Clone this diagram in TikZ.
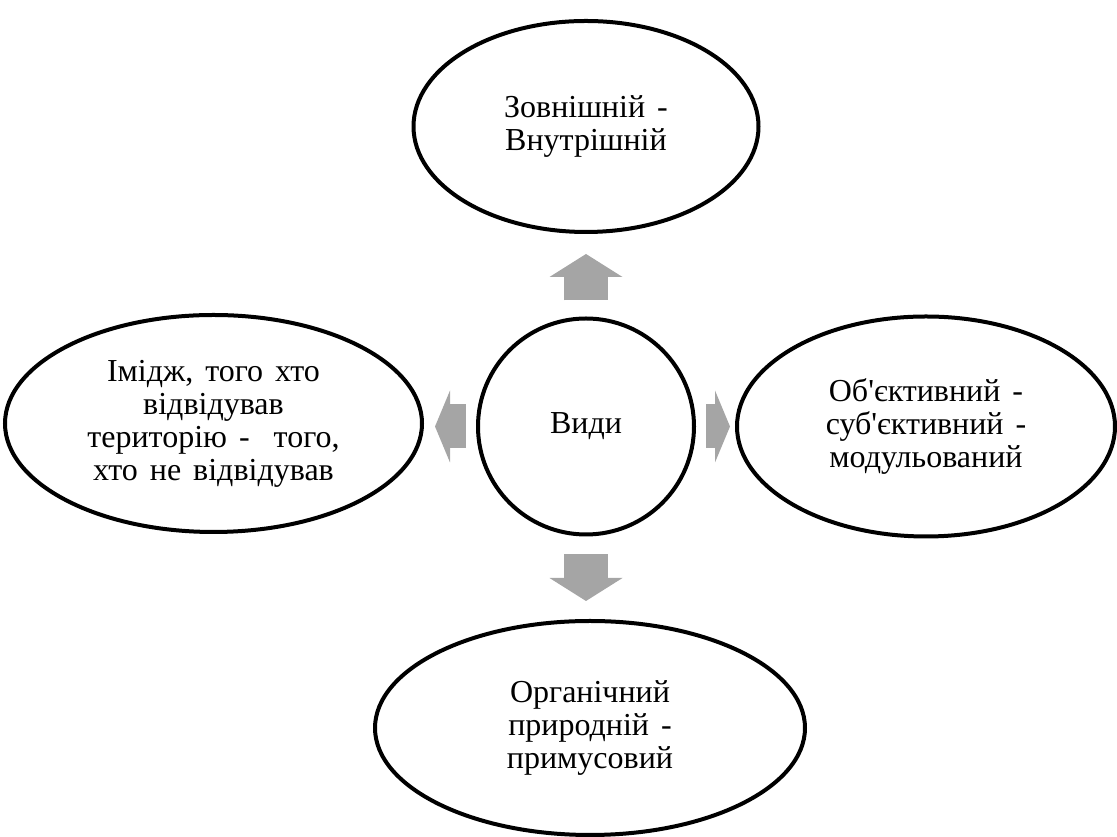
\documentclass[tikz,border=0pt]{standalone}
\usepackage{fontspec}
\setmainfont{Liberation Serif}[Ligatures=TeXOff, WordSpace={1.5,1,1}]
\usetikzlibrary{shapes.geometric, positioning, arrows.meta}
\definecolor{arrowgray}{RGB}{165,165,165}

\begin{document}
\begin{tikzpicture}
	[x=1pt, y=1pt, on grid,
	 kind/.style={ellipse, draw, line width=4pt, align=center, inner sep=0pt,
	   font=\fontsize{32}{33}\selectfont},
	 hub/.style={circle, draw, line width=4pt, minimum size=216pt,
	   font=\fontsize{32}{33}\selectfont},
	 fatup/.style={draw=arrowgray, line width=44pt,
	   -{Triangle[width=73pt, length=23pt, line width=0pt]}},
	 fatside/.style={draw=arrowgray, line width=44pt,
	   -{Triangle[width=72pt, length=15pt, line width=0pt]}}]
   \useasboundingbox (0,0) rectangle (1117,837);
   \node[hub] (vydy) at (586,410.5) {Види};
   \node[kind, minimum width=345pt, minimum height=211pt, yshift=-5pt] (zovn) [above=305pt of vydy]
     {Зовнішній -\\Внутрішній};
   \node[kind, minimum width=430pt, minimum height=214pt, xshift=4pt] (orh) [below=301.5pt of vydy]
     {Органічний\\природній -\\примусовий};
   \node[kind, minimum width=417pt, minimum height=217pt, yshift=3pt] (imidzh) [left=372.5pt of vydy]
     {Імідж, того хто\\відвідував\\територію - \ того,\\хто не відвідував};
   \node[kind, minimum width=378pt, minimum height=220pt] (obj) [right=340pt of vydy]
     {Об'єктивний -\\суб'єктивний -\\модульований};
    \draw[fatup, shorten <=16pt, shorten >=20pt] (vydy.north) -- (vydy.north |- zovn.south);
    \draw[fatup, shorten <=18pt, shorten >=18pt] (vydy.south) -- (vydy.south |- orh.north);
    \draw[fatside, shorten <=10pt, shorten >=11pt] (vydy.west) -- (vydy.west -| imidzh.east);
    \draw[fatside, shorten <=10pt, shorten >=5pt] (vydy.east) -- (vydy.east -| obj.west);
\end{tikzpicture}
\end{document}
